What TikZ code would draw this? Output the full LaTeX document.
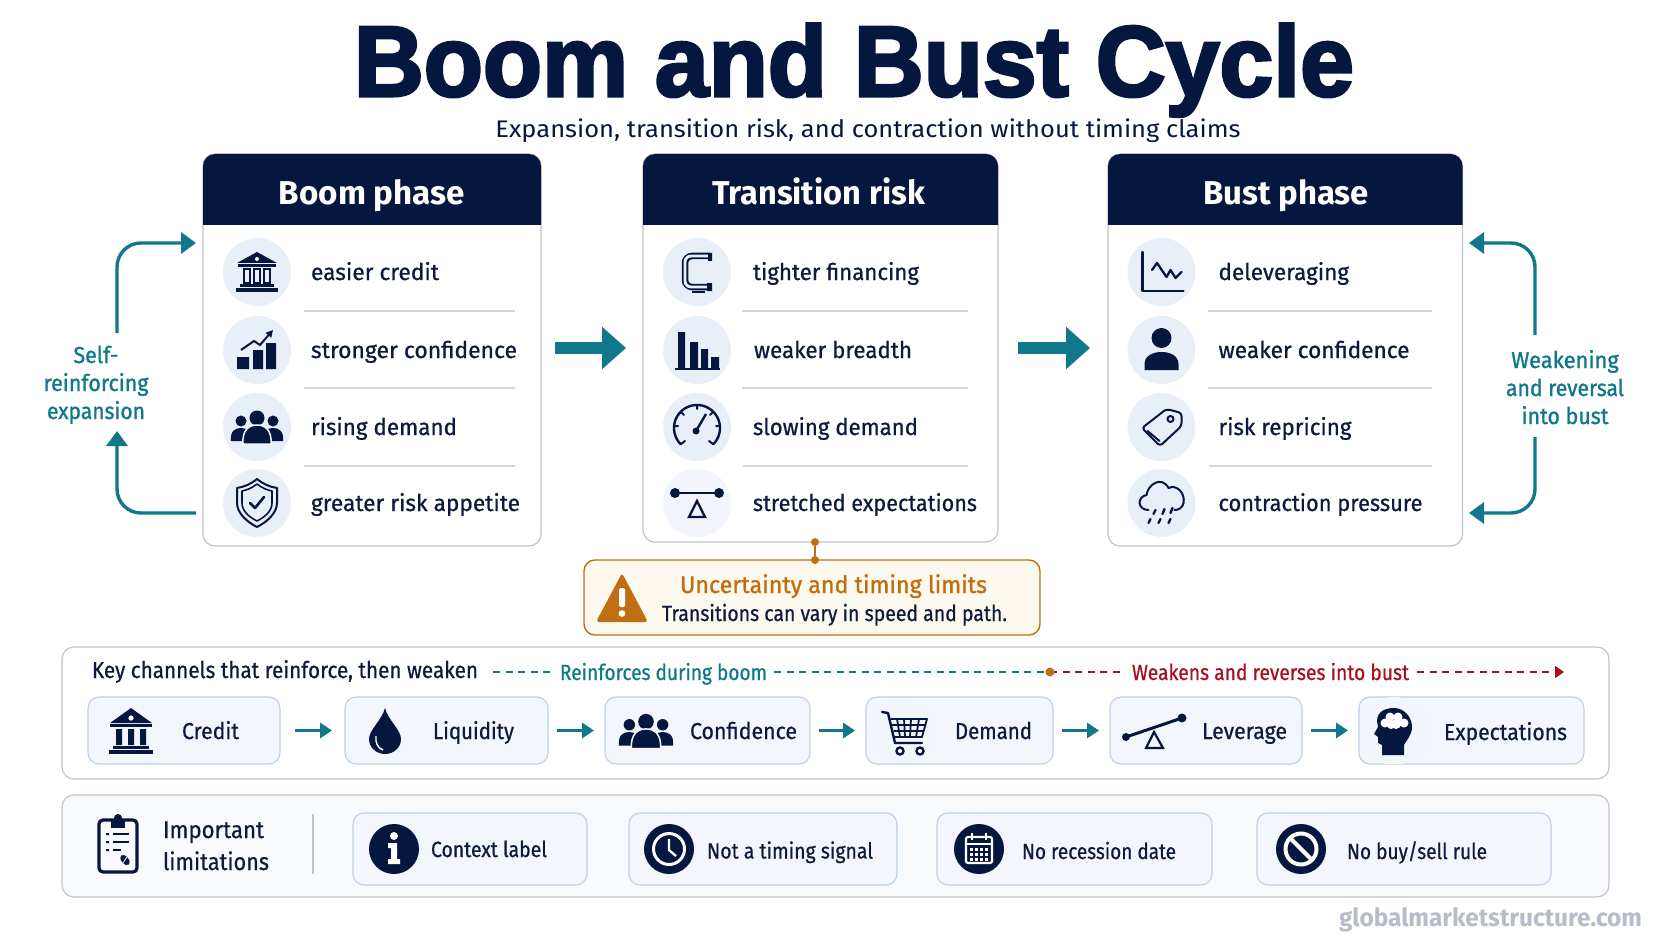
\documentclass[tikz,border=0pt]{standalone}
\usepackage{graphicx}
\usepackage{fontspec}
\setmainfont{Fira Sans}
\newfontfamily\bodyf[FakeBold=0.7]{Fira Sans}
\newfontfamily\semif[FakeBold=1.2]{Fira Sans}
\newfontfamily\titlef[BoldFeatures={FakeBold=3}]{Liberation Sans}
\usetikzlibrary{arrows.meta,calc}
\definecolor{navy}{HTML}{06173F}
\definecolor{ink}{HTML}{0D1A3C}
\definecolor{teal1}{HTML}{11788C}
\definecolor{orng}{HTML}{BF6F12}
\definecolor{redd}{HTML}{A8101F}
\definecolor{circ}{HTML}{E9EFF8}
\definecolor{circl}{HTML}{F2F5FB}
\definecolor{edgeg}{HTML}{BFC3CC}
\definecolor{sepg}{HTML}{D3D6DE}
\definecolor{boxf}{HTML}{F3F6FC}
\definecolor{boxe}{HTML}{BDCFE5}
\definecolor{panf}{HTML}{F9FAFD}
\definecolor{wmark}{HTML}{B6BCCB}
\definecolor{warnf}{HTML}{FEF9EE}
\newcommand{\fitT}[2]{\resizebox{#1pt}{\height}{#2}}
\newcommand{\fsz}[1]{\fontsize{#1}{#1}\selectfont}
\tikzset{
 x=1pt,y=-1pt,
 lbl/.style={inner sep=0pt,outer sep=0pt,anchor=base west,text=ink},
 iconbg/.style={circle,fill=circ,draw=none,minimum size=68pt,inner sep=0pt},
 panelbox/.style={rounded corners=12pt,draw=edgeg,line width=1.2pt,inner sep=0pt,outer sep=0pt},
 chanbox/.style={rounded corners=11pt,draw=boxe,fill=boxf,line width=1.1pt,inner sep=0pt,outer sep=0pt},
 sepline/.style={draw=sepg,line width=1.2pt},
 loopline/.style={draw=teal1,line width=3.4pt,rounded corners=24pt},
 bigarrow/.style={draw=teal1,line width=12pt,-{Triangle[length=24pt,width=41pt]}},
 chanarrow/.style={draw=teal1,line width=3pt,-{Triangle[length=12pt,width=15pt]},shorten <=9pt,shorten >=11pt},
 ico/.style={fill=navy,draw=none},
 icl/.style={draw=navy,line width=2pt,line cap=round,line join=round},
 pics/bankline/.style={code={
  \fill[ico] (0,-20)--(20,-9)--(-20,-9)--cycle;
  \fill[white] (0,-13) circle (2);
  \fill[ico] (-19,-8) rectangle (19,-5);
  \draw[navy,line width=1.5pt] (-13,-3) rectangle (-7,11) (-3,-3) rectangle (3,11) (7,-3) rectangle (13,11);
  \fill[ico] (-17,12) rectangle (17,15);
  \fill[ico] (-21,16) rectangle (21,20);
 }},
 pics/bankfill/.style={code={
  \fill[ico] (0,-23)--(21,-8)--(-21,-8)--cycle;
  \fill[white] (0,-13) circle (2.6);
  \fill[ico] (-21,-7) rectangle (21,-4);
  \fill[ico] (-15,-2) rectangle (-9,14) (-3,-2) rectangle (3,14) (9,-2) rectangle (15,14);
  \fill[ico] (-18,15) rectangle (18,18);
  \fill[ico] (-22,19) rectangle (22,23);
 }},
 pics/growth/.style={code={
  \fill[ico] (-20,7) rectangle (-8,19) (-4,0) rectangle (6,19) (9,-7) rectangle (19,19);
  \draw[navy,line width=2pt,-{Triangle[length=7pt,width=7pt]}] (-16,0)--(-3,-9)--(3,-5)--(16,-20);
 }},
 pics/people/.style={code={
  \fill[ico] (-16,-6) circle (5.5) (16,-6) circle (5.5);
  \fill[ico] (-26,14)..controls(-27,4)and(-22,1)..(-16,1)..controls(-10,1)and(-6,4)..(-6,14)--cycle;
  \fill[ico] (26,14)..controls(27,4)and(22,1)..(16,1)..controls(10,1)and(6,4)..(6,14)--cycle;
  \fill[ico] (0,-9) circle (7.5);
  \draw[circl,line width=1.5pt,fill=navy] (-14,17)..controls(-15,3)and(-8,-2)..(0,-2)..controls(8,-2)and(15,3)..(14,17)--cycle;
 }},
 pics/shield/.style={code={
  \draw[icl] (0,-24)..controls(6,-19)and(13,-16)..(20,-15)--(20,0)..controls(20,10)and(10,19)..(0,24)..controls(-10,19)and(-20,10)..(-20,0)--(-20,-15)..controls(-13,-16)and(-6,-19)..cycle;
  \draw[icl,line width=1.6pt] (0,-19)..controls(5,-15)and(10,-13)..(15,-12)--(15,0)..controls(15,8)and(8,14)..(0,18)..controls(-8,14)and(-15,8)..(-15,0)--(-15,-12)..controls(-10,-13)and(-5,-15)..cycle;
  \draw[icl,line width=2.6pt] (-7,0)--(-2,5)--(7,-6);
 }},
 pics/clampic/.style={code={
  \draw[navy,line width=6.5pt,rounded corners=7pt] (13,-16)--(-12,-16)--(-12,15)--(13,15);
  \draw[circ,line width=2.8pt,rounded corners=6pt] (11,-16)--(-12,-16)--(-12,15)--(11,15);
  \fill[ico] (11,-19) rectangle (15,-11) (10,11) rectangle (15,19);
  \draw[navy,line width=1.5pt] (-5,20)--(8,20);
 }},
 pics/fallbars/.style={code={
  \fill[ico] (-19,-18) rectangle (-12,19) (-7,-8) rectangle (1,19) (4,-1) rectangle (11,19) (14,7) rectangle (22,19);
  \draw[navy,line width=1.5pt] (-22,19)--(23,19);
 }},
 pics/gauge/.style={code={
  \draw[icl,line width=2.4pt] plot[domain=135:405,samples=50] ({23*cos(\x)},{1+23*sin(\x)});
  \draw[icl] (-23,-1)--(-19,-1) (23,-1)--(19,-1) (0,-22)--(0,-18) (-16,-15)--(-13,-12) (16,-15)--(13,-12) (-16,17)--(-12,14) (16,17)--(12,14);
  \fill[ico] (-1,4) circle (3.5);
  \draw[navy,line width=2.4pt] (-1,4)--(9,-13);
 }},
 pics/balance/.style={code={
  \draw[navy,line width=2.4pt] (-23,-10)--(23,-10);
  \fill[ico] (-22,-10) circle (5) (22,-10) circle (5);
  \draw[navy,line width=2.4pt,line join=miter] (0,-2)--(8,14)--(-8,14)--cycle;
 }},
 pics/linechart/.style={code={
  \draw[icl,line width=2.3pt] (-19,-20)--(-19,19)--(22,19);
  \draw[icl,line width=2.3pt] (-9.5,-2)--(-4.5,-9)--(5,5)--(9,-2)--(14,6)--(20,0);
 }},
 pics/personic/.style={code={
  \fill[ico] (0,-12) circle (10);
  \fill[ico] (-17,20)--(-17,14)..controls(-17,6)and(-9,2)..(0,2)..controls(9,2)and(17,6)..(17,14)--(17,20)--cycle;
 }},
 pics/tagic/.style={code={
  \draw[icl,rounded corners=3pt] (5,-18)--(20,-14)--(20,-1)--(-1.5,19)--(-19.5,1)--cycle;
  \draw[icl] (9,-8) circle (3);
  \draw[icl] (-14,4)--(-2,14);
 }},
 pics/cloudic/.style={code={
  \draw[icl] (-13,7)..controls(-24,7)and(-25,-6)..(-15,-8)..controls(-14,-18)and(0,-28)..(7,-15)..controls(15,-19)and(24,-10)..(22,0)..controls(21,5)and(17,7)..(13,7);
  \draw[icl,line width=2.4pt] (-6,7)--(-8,11) (3,6)--(1,11) (11,5)--(9,10) (-11,16)--(-13,20) (-1,16)--(-3,20) (9,16)--(7,20);
 }},
 pics/dropic/.style={code={
  \fill[ico] (0,-22)..controls(3,-10)and(16,0)..(16,9)..controls(16,18)and(8,24)..(0,24)..controls(-8,24)and(-16,18)..(-16,9)..controls(-16,0)and(-3,-10)..cycle;
  \draw[white,line width=1.4pt] (-9,6)..controls(-10,13)and(-7,18)..(-2,20);
 }},
 pics/cartic/.style={code={
  \fill[circl] (-2,0) circle (32);
  \draw[icl,line width=2.4pt] (-23,-19)--(-17,-18)--(-10,12)--(17,12);
  \draw[icl,line width=1.8pt] (-14,-12)--(22,-12)--(17,6)--(-10,6)
   (-8,-12)--(-5,6) (-1,-12)--(0,6) (6,-12)--(5,6) (14,-12)--(11,6) (-13,-6)--(20,-6) (-11,0)--(18,0);
  \draw[navy,line width=2.4pt,fill=white] (-5,20) circle (3.5) (15,20) circle (3.5);
 }},
 pics/seesawic/.style={code={
  \draw[navy,line width=3pt] (-28,7)--(28,-12);
  \fill[ico] (-28,7) circle (4) (28,-12) circle (4.5);
  \draw[navy,line width=2.2pt] (0,2)--(9,18)--(-8,18)--cycle;
 }},
 pics/headic/.style={code={
  \fill[circl] (0,0) circle (34);
  \fill[ico] (-12,24)--(-12,14)--(-16,12)--(-16,6)--(-20,3)--(-16,-4)--(-17,-10)..controls(-17,-20)and(-8,-23)..(0,-23)..controls(10,-23)and(18,-14)..(18,-4)..controls(18,4)and(12,10)..(10,14)--(10,24)--cycle;
  \fill[white] (-9,-8) circle (4.5) (-4,-14) circle (4.5) (4,-14) circle (4.5) (10,-8) circle (4.5) (2,-7) circle (5) (-3,-6) circle (4);
 }},
 pics/clipic/.style={code={
  \draw[navy,line width=3.2pt,rounded corners=4pt] (-19,-24) rectangle (19,28);
  \fill[ico] (-7,-24) rectangle (7,-16);
  \fill[ico] (0,-26) circle (4);
  \draw[navy,line width=2.2pt] (-5,-10)--(11,-10) (-5,-2)--(11,-2) (-5,6)--(3,6);
  \fill[ico] (-12,-11) rectangle (-9,-9) (-12,-3) rectangle (-9,-1) (-12,5) rectangle (-9,7);
  \fill[ico,rotate around={40:(7,16)}] (7,16) ellipse (3.5 and 6);
  \draw[white,line width=.8pt] (5,19)--(9,13);
 }},
 pics/infoic/.style={code={
  \fill[white] (0,-13) circle (4);
  \fill[white] (-6,-6)--(3,-6)--(3,10)--(6,10)--(6,15)--(-6,15)--(-6,10)--(-3,10)--(-3,-1)--(-6,-1)--cycle;
 }},
 pics/clockic/.style={code={
  \draw[white,line width=3pt] (0,0) circle (15.5);
  \draw[white,line width=2.3pt] (0,-10)--(0,1)--(7,7);
 }},
 pics/calic/.style={code={
  \draw[white,line width=2.2pt,rounded corners=2pt] (-13,-12) rectangle (13,14);
  \draw[white,line width=2pt] (-13,-5)--(13,-5) (-7,-16)--(-7,-9) (7,-16)--(7,-9);
  \foreach \gy in {-1,4,9}{\foreach \gx in {-9,-4,1,6}{\fill[white] (\gx,\gy) rectangle ++(3,3);}}
 }},
 pics/noic/.style={code={
  \draw[white,line width=4pt] (0,0) circle (15.5);
  \draw[white,line width=4pt] (-11,-11)--(11,11);
 }},
 pics/warnic/.style={code={
  \fill[orng,rounded corners=3pt] (0,-25)--(26,24)--(-26,24)--cycle;
  \fill[white,rounded corners=1.5pt] (-3,-10) rectangle (3,9);
  \fill[white] (0,15.5) circle (3.4);
 }},
}
\newcommand{\cardpanel}[7]{%
 \node[panelbox,fill=white,minimum width={(#3-#2)*1pt},minimum height={(#4-154)*1pt}] (#1) at ({(#2+#3)/2},{(154+#4)/2}) {};
 \coordinate (#1hb) at (#2,225);
 \coordinate (#1he) at (#3,225);
 \fill[navy] (#1hb) [rounded corners=12pt] -- (#1.north west) -- (#1.north east) [sharp corners] -- (#1he) -- cycle;
 \node[inner sep=0pt,anchor=base,text=white] (#1head) at (#5,205) {\bfseries\fsz{33}\fitT{#6}{#7}};
}
\newcommand{\rowtxt}[5]{\node[lbl] (#1) at (#2,#3) {\bodyf\fsz{23}\fitT{#4}{#5}};}
\newcommand{\sidetxt}[5]{\node[inner sep=0pt,anchor=base,text=teal1] (#1) at (#2,#3) {\semif\fsz{23}\fitT{#4}{#5}};}
\newcommand{\chan}[7]{% name x1 x2 textx textw baseline text
 \node[chanbox,minimum width={(#3-#2)*1pt},minimum height=67pt] (#1) at ({(#2+#3)/2},730.5) {};
 \node[lbl] (#1txt) at (#4,#6) {\bodyf\fsz{23}\fitT{#5}{#7}};
}
\newcommand{\limbox}[9]{% name x1 x2 iconx icon textx textw text baseline
 \node[chanbox,minimum width={(#3-#2)*1pt},minimum height=72pt] (#1) at ({(#2+#3)/2},849) {};
 \node[circle,fill=navy,minimum size=50pt,inner sep=0pt] (#1ic) at (#4,849) {};
 \pic at (#4,849) {#5};
 \node[lbl] (#1txt) at (#6,#9) {\bodyf\fsz{22}\fitT{#7}{#8}};
}
\begin{document}
\begin{tikzpicture}
\useasboundingbox (0,0) rectangle (1672,941);
\fill[white] (0,0) rectangle (1672,941);
% title
\node[inner sep=0pt,anchor=base,text=navy] (ttl) at (854,96) {\titlef\bfseries\fsz{100}\fitT{1000}{Boom and Bust Cycle}};
\node[inner sep=0pt,anchor=base,text=navy] (subt) at (868,138) {\fsz{24}\fitT{745}{Expansion, transition risk, and contraction without timing claims}};
% cards
\cardpanel{boom}{203}{541}{546}{372}{186}{Boom phase}
\cardpanel{trans}{643}{998}{542}{818.5}{213}{Transition risk}
\cardpanel{bust}{1108}{1462.5}{546}{1286}{166}{Bust phase}
% boom rows
\node[iconbg] (bc1) at (257,272) {}; \pic at (257,272) {bankline};
\node[iconbg] (bc2) at (257,350) {}; \pic at (257,350) {growth};
\node[iconbg] (bc3) at (257,427) {}; \pic at (257,427) {people};
\node[iconbg] (bc4) at (257,503) {}; \pic at (257,503) {shield};
\rowtxt{bt1}{311}{280}{128}{easier credit}
\rowtxt{bt2}{311}{358}{206}{stronger confidence}
\rowtxt{bt3}{311}{435}{146}{rising demand}
\rowtxt{bt4}{311}{511}{209}{greater risk appetite}
\draw[sepline] (304,311)--(515,311) (304,388)--(515,388) (304,466)--(515,466);
% transition rows
\node[iconbg] (tc1) at (697,272) {}; \pic at (697,272) {clampic};
\node[iconbg] (tc2) at (697,350) {}; \pic at (697,350) {fallbars};
\node[iconbg] (tc3) at (697,427) {}; \pic at (697,427) {gauge};
\node[iconbg,fill=circl] (tc4) at (697,503) {}; \pic at (697,503) {balance};
\rowtxt{tt1}{753}{280}{166}{tighter financing}
\rowtxt{tt2}{754}{358}{158}{weaker breadth}
\rowtxt{tt3}{753}{435}{165}{slowing demand}
\rowtxt{tt4}{753}{511}{224}{stretched expectations}
\draw[sepline] (742,311)--(968,311) (742,388)--(968,388) (743,466)--(968,466);
% bust rows
\node[iconbg] (uc1) at (1161.5,272) {}; \pic at (1161.5,272) {linechart};
\node[iconbg] (uc2) at (1161.5,350) {}; \pic at (1161.5,350) {personic};
\node[iconbg] (uc3) at (1161.5,427) {}; \pic at (1161.5,427) {tagic};
\node[iconbg] (uc4) at (1161.5,503) {}; \pic at (1161.5,503) {cloudic};
\rowtxt{ut1}{1218.5}{280}{130.5}{deleveraging}
\rowtxt{ut2}{1218.5}{358}{191}{weaker confidence}
\rowtxt{ut3}{1218.5}{435}{133}{risk repricing}
\rowtxt{ut4}{1218.5}{511}{204}{contraction pressure}
\draw[sepline] (1208,311)--(1432,311) (1208,388)--(1432,388) (1209,466)--(1432,466);
% big arrows
\coordinate (a1s) at (555,348); \coordinate (a1e) at (626,348);
\coordinate (a2s) at (1018,348); \coordinate (a2e) at (1090,348);
\draw[bigarrow] (a1s)--(a1e);
\draw[bigarrow] (a2s)--(a2e);
% side loops
\sidetxt{ls1}{96}{363}{45}{Self-}
\sidetxt{ls2}{96}{391}{105}{reinforcing}
\sidetxt{ls3}{96}{419}{98}{expansion}
\sidetxt{rs1}{1565}{368}{107.5}{Weakening}
\sidetxt{rs2}{1565}{396}{118}{and reversal}
\sidetxt{rs3}{1565}{424}{87}{into bust}
\coordinate (l1s) at (117,333); \coordinate (l1c) at (117,243); \coordinate (l1e) at (196,243);
\coordinate (l2s) at (196,513); \coordinate (l2c) at (117,513); \coordinate (l2e) at (117,431);
\coordinate (r1s) at (1535,335); \coordinate (r1c) at (1535,243); \coordinate (r1e) at (1469,243);
\coordinate (r2s) at (1535,437); \coordinate (r2c) at (1535,513); \coordinate (r2e) at (1469,513);
\draw[loopline,-{Triangle[length=15pt,width=21pt]}] (l1s)--(l1c)--(l1e);
\draw[loopline,-{Triangle[length=15pt,width=21pt]}] (l2s)--(l2c)--(l2e);
\draw[loopline,-{Triangle[length=15pt,width=21pt]}] (r1s)--(r1c)--(r1e);
\draw[loopline,-{Triangle[length=15pt,width=21pt]}] (r2s)--(r2c)--(r2e);
% warning
\node[rounded corners=11pt,draw=orng,fill=warnf,line width=1.4pt,minimum width=456pt,minimum height=75pt,inner sep=0pt,outer sep=0pt] (warn) at (812,597.5) {};
\pic at (622,598) {warnic};
\node[inner sep=0pt,anchor=base,text=orng] (warnt) at (833.5,593) {\semif\fsz{24}\fitT{307}{Uncertainty and timing limits}};
\node[inner sep=0pt,anchor=base,text=ink] (warns) at (834.5,621) {\bodyf\fsz{22}\fitT{345}{Transitions can vary in speed and path.}};
\coordinate (wa) at (815,542); \coordinate (wb) at (815,560);
\draw[orng,line width=1.2pt] (wa)--(wb);
\fill[orng] (wa) circle (4) (wb) circle (4);
% channels panel
\node[panelbox,fill=white,minimum width=1547pt,minimum height=132pt] (chpanel) at (835.5,713) {};
\node[lbl] (keyt) at (92,678) {\bodyf\fsz{23}\fitT{386}{Key channels that reinforce, then weaken}};
\node[lbl,text=teal1] (rft) at (560,680) {\bodyf\fsz{22}\fitT{207}{Reinforces during boom}};
\node[lbl,text=redd] (wkt) at (1132,680) {\bodyf\fsz{22}\fitT{277}{Weakens and reverses into bust}};
\coordinate (d1) at (493,672); \coordinate (d2) at (555,672); \coordinate (d3) at (774,672); \coordinate (dm) at (1050,672);
\coordinate (d5) at (1125,672); \coordinate (d6) at (1417,672); \coordinate (d7) at (1564,672);
\draw[teal1,line width=1.5pt,dash pattern=on 7pt off 5.5pt] (d1)--(d2) (d3)--(dm);
\draw[redd,line width=1.5pt,dash pattern=on 7pt off 5.5pt] (dm)--(d5);
\draw[redd,line width=1.5pt,dash pattern=on 7pt off 5.5pt,-{Triangle[length=9pt,width=12pt]}] (d6)--(d7);
\fill[orng] (dm) circle (4.5);
\chan{cCredit}{88}{280}{182}{57}{739}{Credit}
\chan{cLiq}{345}{548}{433}{81}{739}{Liquidity}
\chan{cConf}{605}{810}{690}{107}{739}{Confidence}
\chan{cDem}{866}{1053}{955}{77}{739}{Demand}
\chan{cLev}{1110}{1302}{1202}{85}{739}{Leverage}
\chan{cExp}{1359}{1584}{1444}{123}{740}{Expectations}
\pic at (131,731) {bankfill};
\pic at (385,730) {dropic};
\pic[scale=1.04] at (646,731) {people};
\begin{scope}
\clip[rounded corners=11pt] (866,697) rectangle (1053,764);
\pic at (905,731) {cartic};
\end{scope}
\pic at (1154,730) {seesawic};
\begin{scope}
\clip[rounded corners=11pt] (1359,697) rectangle (1584,764);
\pic at (1394,731) {headic};
\end{scope}
\draw[chanarrow,shorten <=15pt,shorten >=13pt] (cCredit)--(cLiq);
\draw[chanarrow] (cLiq)--(cConf);
\draw[chanarrow] (cConf)--(cDem);
\draw[chanarrow] (cDem)--(cLev);
\draw[chanarrow] (cLev)--(cExp);
% limits panel
\node[panelbox,fill=panf,minimum width=1547pt,minimum height=102pt] (limpanel) at (835.5,846) {};
\pic at (118,844) {clipic};
\node[lbl] (limt1) at (163,838) {\bodyf\fsz{24}\fitT{101}{Important}};
\node[lbl] (limt2) at (163,870) {\bodyf\fsz{24}\fitT{106}{limitations}};
\coordinate (dva) at (313,814); \coordinate (dvb) at (313,874);
\draw[edgeg,line width=1.2pt] (dva)--(dvb);
\limbox{lCtx}{353}{587}{394}{infoic}{431}{116}{Context label}{857}
\limbox{lTim}{629}{897}{669}{clockic}{707}{166}{Not a timing signal}{858.5}
\limbox{lRec}{937}{1212}{979}{calic}{1022}{154}{No recession date}{859}
\limbox{lBuy}{1257}{1551}{1301}{noic}{1347}{140}{No buy/sell rule}{859}
\node[lbl,text=wmark] (wm) at (1339,926) {\bfseries\fsz{25}\fitT{303}{globalmarketstructure.com}};
\end{tikzpicture}
\end{document}
